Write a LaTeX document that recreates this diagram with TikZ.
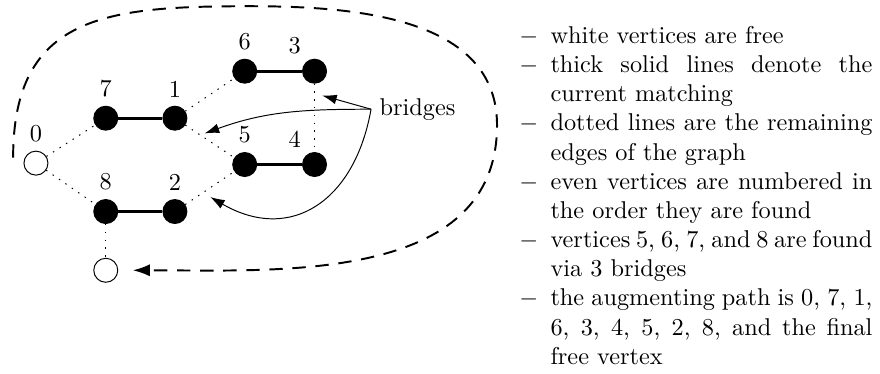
\documentclass[tikz,border=0pt]{standalone}
\usepackage{amsmath}
\usepackage{tikz}
\usetikzlibrary{arrows.meta,positioning,calc}

\begin{document}
\begin{tikzpicture}[
  inner/.style={circle, draw, fill=black, inner sep=0pt, minimum size=0.347cm},
  outer/.style={circle, draw, thin, fill=white, inner sep=0pt, minimum size=0.347cm},
  matched/.style={very thick},
  unmatched/.style={thin, dash pattern=on 0.6pt off 2.6pt},
  bridge/.style={thin, -{Latex[length=6pt,width=4pt]}},
  search/.style={thick, dash pattern=on 5.5pt off 4pt, -{Latex[length=7pt,width=5pt]}}
]
  \useasboundingbox (0,0) rectangle (12.73,5.40);

  % Vertices
  \node[outer, label=above:0] (v0) at (0.52,3.04) {};
  \node[inner, label=above:7] (v7) at (1.53,3.69) {};
  \node[inner, label=above:1] (v1) at (2.53,3.69) {};
  \node[inner, label=above:6] (v6) at (3.54,4.37) {};
  \node[inner, label={[xshift=1.5pt]above left:3}] (v3) at (4.55,4.37) {};
  \node[inner, label=above:5] (v5) at (3.54,3.02) {};
  \node[inner, label={[xshift=1.5pt]above left:4}] (v4) at (4.55,3.02) {};
  \node[inner, label=above:8] (v8) at (1.53,2.34) {};
  \node[inner, label=above:2] (v2) at (2.53,2.34) {};
  \node[outer] (vf) at (1.53,1.49) {};

  % Current matching
  \draw[matched] (v7) -- (v1);
  \draw[matched] (v6) -- (v3);
  \draw[matched] (v5) -- (v4);
  \draw[matched] (v8) -- (v2);

  % Remaining edges
  \draw[unmatched] (v0) -- (v7);
  \draw[unmatched] (v0) -- (v8);
  \draw[unmatched] (v1) -- (v6);
  \draw[unmatched] (v1) -- (v5);
  \draw[unmatched] (v2) -- (v5);
  \draw[unmatched] (v3) -- (v4);
  \draw[unmatched] (v8) -- (vf);

  % Bridges
  \node (bridges) at (6.04,3.82) {bridges};
  \coordinate (b34) at ($(v3)!0.26!(v4) + (0.11,0)$);
  \coordinate (b15) at (2.96,3.47);
  \coordinate (b25) at (3.04,2.55);
  \draw[bridge] (bridges.west) -- (b34);
  \draw[bridge] (bridges.west) to[out=180,in=20] (b15);
  \draw[bridge] (bridges.west) to[out=-100,in=-30,looseness=1.3] (b25);

  % Search around the graph
  \coordinate (start) at (0.19,3.12);
  \draw[search, shorten >=6pt] (start) to[out=90,in=180,looseness=1.3] (3.62,5.31)
    to[out=0,in=90] (7.19,3.59) to[out=-90,in=0] (vf);

  % Notes
  \node[anchor=north west, inner sep=0pt, text width=145.5pt, align=justify] (notes) at (7.50,5.20) {%
    \hyphenpenalty=10000
    \begin{list}{$-$}{\setlength{\leftmargin}{13pt}\setlength{\labelwidth}{8pt}%
      \setlength{\labelsep}{5pt}\setlength{\itemsep}{0pt}\setlength{\parsep}{0pt}%
      \setlength{\topsep}{0pt}\setlength{\partopsep}{0pt}}
    \item white vertices are free
    \item thick solid lines denote the current matching
    \item dotted lines are the remaining edges of the graph
    \item even vertices are numbered in the order they are found
    \item vertices 5, 6, 7, and 8 are found via 3 bridges
    \item the augmenting path is 0, 7, 1, 6, 3, 4, 5, 2, 8, and the final free vertex
    \end{list}};
\end{tikzpicture}
\end{document}
